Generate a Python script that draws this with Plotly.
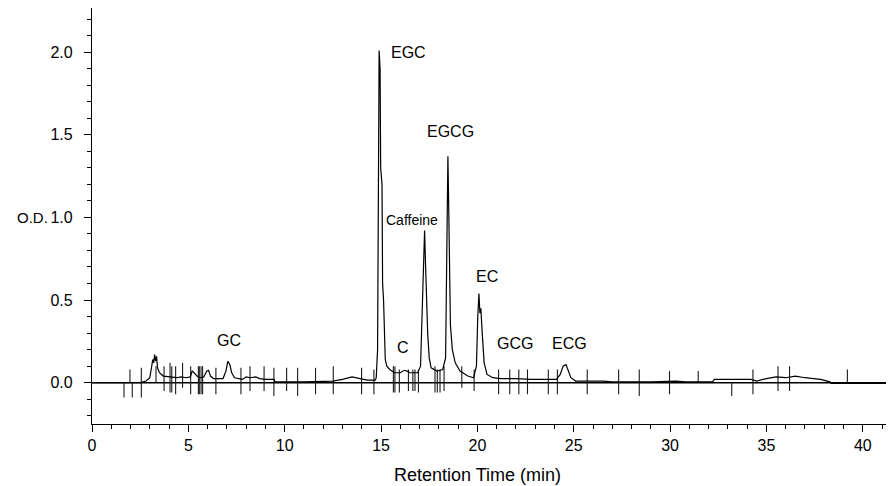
import plotly.graph_objects as go

# Chromatogram trace (retention time in min, optical density)
time_min = [0, 1.7, 2.5, 2.8, 3.0, 3.1, 3.15, 3.2, 3.25, 3.3, 3.35, 3.4, 3.5, 3.7, 4.0, 4.4, 4.6, 4.9,
            5.1, 5.2, 5.3, 5.45, 5.6, 5.8, 5.95, 6.05, 6.15, 6.3, 6.8, 6.95, 7.05, 7.15, 7.25, 7.4,
            7.8, 8.0, 8.2, 8.5, 8.7, 9.0, 9.45, 9.5, 11.0, 12.5, 13.0, 13.5, 13.9, 14.3, 14.7, 14.75,
            14.82, 14.86, 14.9, 14.95, 14.98, 15.05, 15.08, 15.13, 15.18, 15.22, 15.3, 15.45, 15.7,
            16.0, 16.2, 16.35, 16.5, 16.9, 17.05, 17.15, 17.22, 17.26, 17.3, 17.35, 17.42, 17.5,
            17.6, 17.9, 18.2, 18.35, 18.42, 18.47, 18.52, 18.56, 18.6, 18.7, 18.85, 19.1, 19.5,
            19.8, 19.95, 20.02, 20.08, 20.13, 20.18, 20.25, 20.35, 20.5, 20.8, 21.2, 22.0, 22.8,
            23.5, 24.1, 24.3, 24.45, 24.6, 24.72, 24.85, 25.1, 26.5, 27.0, 28.0, 29.0, 30.3, 30.8,
            31.5, 32.2, 32.3, 34.2, 34.5, 35.0, 35.5, 36.0, 36.5, 37.0, 37.8, 38.3, 38.35, 41.6]
od = [0, 0, 0.0, 0.01, 0.03, 0.1, 0.14, 0.12, 0.17, 0.13, 0.16, 0.09, 0.06, 0.04, 0.035, 0.03, 0.035, 0.03,
      0.035, 0.07, 0.06, 0.04, 0.03, 0.035, 0.07, 0.075, 0.04, 0.025, 0.025, 0.07, 0.13, 0.11, 0.06, 0.03,
      0.02, 0.035, 0.03, 0.035, 0.025, 0.02, 0.02, 0.005, 0.005, 0.01, 0.02, 0.035, 0.025, 0.015, 0.015, 0.03,
      0.2, 1.0, 2.01, 1.9, 1.3, 1.2, 0.6, 0.5, 0.25, 0.14, 0.1, 0.08, 0.06,
      0.06, 0.075, 0.07, 0.06, 0.06, 0.1, 0.5, 0.85, 0.92, 0.75, 0.55, 0.3, 0.15,
      0.09, 0.07, 0.08, 0.15, 0.9, 1.37, 1.0, 0.6, 0.35, 0.2, 0.12, 0.07, 0.04,
      0.03, 0.1, 0.4, 0.54, 0.42, 0.45, 0.3, 0.12, 0.05, 0.03, 0.025, 0.025, 0.02,
      0.02, 0.02, 0.05, 0.1, 0.11, 0.07, 0.03, 0.01, 0.01, 0.005, 0.005, 0.005, 0.01, 0.005,
      0.005, 0.005, 0.02, 0.02, 0.01, 0.025, 0.035, 0.03, 0.04, 0.03, 0.02, 0.005, -0.005, -0.005]

# Integration event markers: time, upper and lower extent (O.D.)
marker_time = [1.66, 1.97, 2.09, 2.56, 3.32, 3.74, 4.05, 4.14, 4.34, 4.7, 5.12, 5.52, 5.57, 5.66, 5.74,
               6.43, 7.73, 8.2, 8.93, 9.44, 10.1, 10.67, 11.6, 12.52, 13.99, 14.63, 15.64, 15.72, 15.95,
               16.42, 16.65, 16.76, 16.94, 17.8, 17.92, 18.06, 18.27, 19.19, 19.83, 21.1, 21.68, 22.15,
               22.6, 23.68, 24.15, 25.7, 27.33, 28.4, 29.97, 31.46, 33.2, 34.3, 35.6, 36.2, 39.2]
marker_top = [0.0, 0.08, 0.0, 0.09, 0.1, 0.1, 0.12, 0.1, 0.1, 0.12, 0.1, 0.1, 0.1, 0.1, 0.1,
              0.09, 0.09, 0.1, 0.1, 0.09, 0.09, 0.09, 0.09, 0.1, 0.09, 0.08, 0.1, 0.1, 0.08,
              0.08, 0.08, 0.08, 0.08, 0.1, 0.08, 0.08, 0.1, 0.1, 0.08, 0.08, 0.08, 0.08,
              0.08, 0.08, 0.08, 0.08, 0.08, 0.08, 0.07, 0.07, 0.0, 0.08, 0.1, 0.1, 0.08]
marker_bottom = [-0.09, 0.0, -0.09, -0.09, 0.0, -0.05, -0.06, -0.06, -0.07, -0.03, -0.07, -0.07, -0.07, -0.07, -0.07,
                 -0.07, -0.07, -0.05, -0.05, -0.08, -0.05, -0.08, -0.07, -0.07, -0.07, -0.07, -0.06, -0.06, -0.06,
                 -0.05, -0.05, -0.05, -0.06, -0.06, -0.06, -0.06, -0.05, -0.03, -0.05, -0.07, -0.07, -0.07,
                 -0.07, -0.07, -0.07, -0.07, -0.07, -0.08, -0.07, 0.0, -0.08, -0.07, -0.05, -0.05, 0.0]

# Peak labels
peak_names = ["GC", "EGC", "C", "Caffeine", "EGCG", "EC", "GCG", "ECG"]
peak_label_time = [7.13, 16.45, 16.12, 16.63, 18.58, 20.48, 21.95, 24.77]
peak_label_od = [0.254, 2.0, 0.214, 0.984, 1.52, 0.645, 0.238, 0.238]

FONT = "Arial, Liberation Sans, sans-serif"

mx, my = [], []
for t, top, bot in zip(marker_time, marker_top, marker_bottom):
    mx += [t, t, None]
    my += [top, bot, None]

fig = go.Figure()
# baseline
fig.add_trace(go.Scatter(x=[0, 41.6], y=[0, 0], mode="lines",
                         line=dict(color="black", width=1.4), hoverinfo="skip"))
fig.add_trace(go.Scatter(x=mx, y=my, mode="lines",
                         line=dict(color="#1a1a1a", width=1.1), hoverinfo="skip"))
fig.add_trace(go.Scatter(x=time_min, y=od, mode="lines",
                         line=dict(color="black", width=1.2), hoverinfo="skip"))

for name, t, v in zip(peak_names, peak_label_time, peak_label_od):
    fig.add_annotation(x=t, y=v, text=name, showarrow=False, xanchor="center", yanchor="middle",
                       font=dict(family=FONT, size=14 if name == "Caffeine" else 16, color="black"))

fig.add_annotation(x=-0.0742, xref="paper", y=1.0, yref="y", text="O.D.", showarrow=False,
                   xanchor="center", yanchor="middle", font=dict(family=FONT, size=15, color="black"))
fig.add_annotation(x=20.03, xref="x", y=-0.1226, yref="paper", text="Retention Time (min)",
                   showarrow=False, xanchor="center", yanchor="middle",
                   font=dict(family=FONT, size=18, color="black"))

# page body has an 8px default margin; the figure is sized so it fills the rest of the window
fig.update_layout(
    width=886, height=478,
    margin=dict(l=84, r=0, t=0, b=62, autoexpand=False),
    paper_bgcolor="white", plot_bgcolor="white",
    showlegend=False,
    font=dict(family=FONT, color="black"),
)
fig.update_xaxes(range=[0, 41.62], showgrid=False, zeroline=False, automargin=False,
                 showline=True, linecolor="black", linewidth=1.2, mirror=True,
                 tickmode="array", tickvals=[0, 5, 10, 15, 20, 25, 30, 35, 40],
                 ticks="outside", ticklen=7, tickcolor="black", tickwidth=1.2,
                 tickfont=dict(family=FONT, size=16, color="black"),
                 minor=dict(dtick=1, ticks="outside", ticklen=4, tickcolor="black", showgrid=False))
fig.update_yaxes(range=[-0.25, 2.267], showgrid=False, zeroline=False, automargin=False,
                 showline=True, linecolor="black", linewidth=1.2, mirror=False,
                 tickmode="array", tickvals=[0, 0.5, 1.0, 1.5, 2.0], ticktext=["0.0", "0.5", "1.0", "1.5", "2.0"],
                 ticks="outside", ticklen=7, tickcolor="black", tickwidth=1.2, ticklabelstandoff=8,
                 tickfont=dict(family=FONT, size=16, color="black"),
                 minor=dict(dtick=0.1, tick0=0, ticks="outside", ticklen=4, tickcolor="black", showgrid=False))

fig.write_html("out.html")
